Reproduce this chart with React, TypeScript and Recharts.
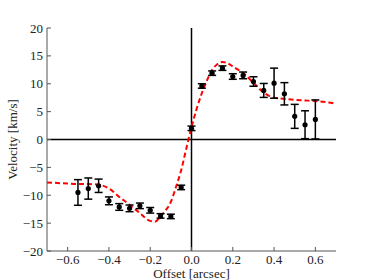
import {
  ComposedChart,
  Scatter,
  Line,
  XAxis,
  YAxis,
  ErrorBar,
  ReferenceLine,
} from "recharts";

// measured velocities
const offsets = [
  -0.55, -0.5, -0.45, -0.4, -0.35, -0.3, -0.25, -0.2, -0.15, -0.1, -0.05, 0,
  0.05, 0.1, 0.15, 0.2, 0.25, 0.3, 0.35, 0.4, 0.45, 0.5, 0.55, 0.6,
];
const velocities = [
  -9.5, -8.8, -8.3, -11.0, -12.1, -12.35, -11.9, -12.7, -13.7, -13.8, -8.6, 2.0,
  9.6, 11.9, 12.8, 11.3, 11.5, 10.4, 8.8, 10.1, 8.2, 4.15, 2.65, 3.6,
];
const errors = [
  2.3, 1.9, 1.2, 0.7, 0.6, 0.6, 0.5, 0.5, 0.4, 0.4, 0.4, 0.4, 0.4, 0.4, 0.4,
  0.5, 0.6, 0.85, 1.25, 2.7, 2.0, 2.15, 2.5, 3.5,
];

// model curve
const modelOffsets = [
  -0.7, -0.65, -0.6, -0.55, -0.5, -0.45, -0.4, -0.35, -0.3, -0.25, -0.2, -0.175,
  -0.15, -0.125, -0.1, -0.075, -0.05, -0.025, 0, 0.025, 0.05, 0.075, 0.1, 0.125,
  0.15, 0.175, 0.2, 0.25, 0.3, 0.35, 0.4, 0.45, 0.5, 0.55, 0.6, 0.65, 0.7,
];
const modelVelocities = [
  -7.7, -7.8, -7.9, -8.0, -8.0, -8.1, -8.8, -10.3, -11.7, -13.2, -14.6, -14.7,
  -13.8, -12.7, -11.2, -8.5, -5.5, -1.6, 2.2, 5.5, 8.3, 10.6, 12.5, 13.5, 13.9,
  13.7, 13.1, 11.9, 10.2, 8.4, 7.5, 7.3, 7.1, 7.0, 6.9, 6.7, 6.4,
];

const xTicks = [-0.6, -0.4, -0.2, 0, 0.2, 0.4, 0.6];
const yTicks = [-20, -15, -10, -5, 0, 5, 10, 15, 20];

const FRAME = "#555";
const FONT = "Liberation Serif";
const TICK = 4;

const points = offsets.map((x, i) => ({ x, v: velocities[i], err: errors[i] }));
const model = modelOffsets.map((x, i) => ({ x, v: modelVelocities[i] }));

const minus = (s: string) => s.replace("-", "\u2212");

const BottomTick = ({ x, y, payload }: any) => (
  <g>
    <line x1={x} y1={y} x2={x} y2={y - TICK} stroke={FRAME} />
    <text x={x} y={y + 13} textAnchor="middle" fontFamily={FONT} fontSize={13} fill="#222">
      {minus(payload.value.toFixed(1))}
    </text>
  </g>
);

const TopTick = ({ x, y }: any) => (
  <line x1={x} y1={y} x2={x} y2={y + TICK} stroke={FRAME} />
);

const LeftTick = ({ x, y, payload }: any) => (
  <g>
    <line x1={x} y1={y} x2={x + TICK} y2={y} stroke={FRAME} />
    <text x={x - 4} y={y + 4.5} textAnchor="end" fontFamily={FONT} fontSize={13} fill="#222">
      {minus(String(payload.value))}
    </text>
  </g>
);

const RightTick = ({ x, y }: any) => (
  <line x1={x} y1={y} x2={x - TICK} y2={y} stroke={FRAME} />
);

const Dot = ({ cx, cy }: any) => <circle cx={cx} cy={cy} r={2.6} fill="#000" />;

export default function App() {
  return (
    <div style={{ position: "absolute", left: 0, top: 0 }}>
      <ComposedChart
        width={374}
        height={280}
        margin={{ top: 28, right: 38, left: 7, bottom: 0 }}
      >
        <XAxis
          dataKey="x"
          type="number"
          domain={[-0.7, 0.7]}
          ticks={xTicks}
          interval={0}
          allowDataOverflow
          height={29}
          tickSize={0}
          tickMargin={0}
          tickLine={false}
          tick={BottomTick}
          axisLine={{ stroke: FRAME }}
          label={{
            value: "Offset [arcsec]",
            position: "insideBottom",
            offset: 2.5,
            fontFamily: FONT,
            fontSize: 13,
            fill: "#222",
          }}
        />
        <XAxis
          xAxisId="top"
          orientation="top"
          type="number"
          domain={[-0.7, 0.7]}
          ticks={xTicks}
          interval={0}
          allowDataOverflow
          height={0}
          tickSize={0}
          tickMargin={0}
          tickLine={false}
          tick={TopTick}
          axisLine={{ stroke: FRAME }}
        />
        <YAxis
          type="number"
          domain={[-20, 20]}
          ticks={yTicks}
          interval={0}
          allowDataOverflow
          width={40}
          tickSize={0}
          tickMargin={0}
          tickLine={false}
          tick={LeftTick}
          axisLine={{ stroke: FRAME }}
          label={{
            value: "Velocity [km/s]",
            angle: -90,
            position: "center",
            dx: -15,
            fontFamily: FONT,
            fontSize: 13,
            fill: "#222",
          }}
        />
        <YAxis
          yAxisId="right"
          orientation="right"
          type="number"
          domain={[-20, 20]}
          ticks={yTicks}
          interval={0}
          allowDataOverflow
          width={0}
          tickSize={0}
          tickMargin={0}
          tickLine={false}
          tick={RightTick}
          axisLine={{ stroke: FRAME }}
        />
        <ReferenceLine x={0} stroke="#000" strokeWidth={1.5} />
        <ReferenceLine y={0} stroke="#000" strokeWidth={1.5} />
        <Line
          data={model}
          dataKey="v"
          type="monotone"
          stroke="#ff0000"
          strokeWidth={2}
          strokeDasharray="5 3"
          dot={false}
          activeDot={false}
          isAnimationActive={false}
        />
        <Scatter data={points} dataKey="v" shape={Dot} isAnimationActive={false}>
          <ErrorBar dataKey="err" direction="y" width={4} stroke="#000" strokeWidth={1.5} />
        </Scatter>
      </ComposedChart>
    </div>
  );
}
